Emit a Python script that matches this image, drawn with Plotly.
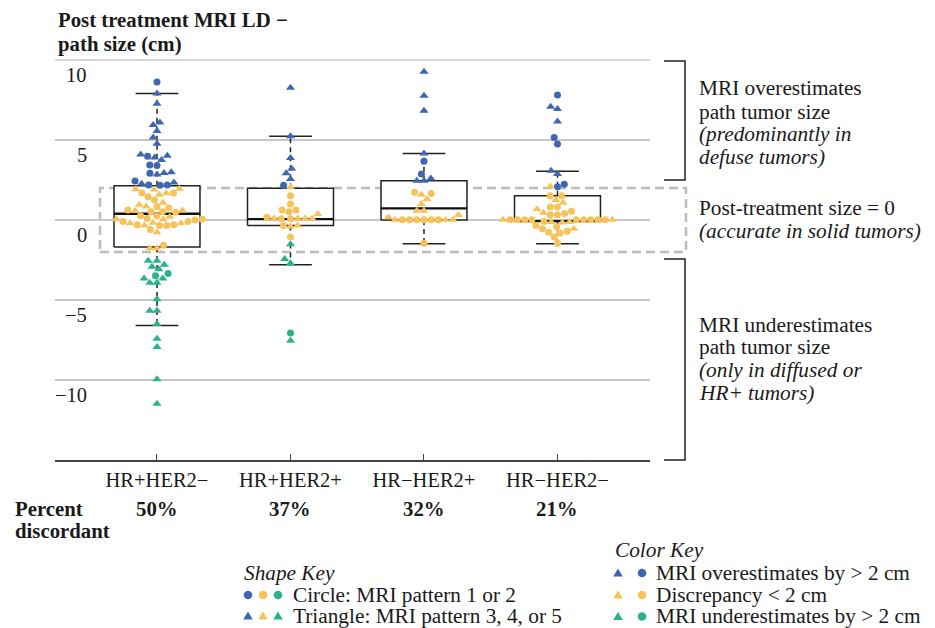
import math
import plotly.graph_objects as go

# ---------------- data ----------------
categories = ["HR+HER2−", "HR+HER2+", "HR−HER2+", "HR−HER2−"]
percent_discordant = ["50%", "37%", "32%", "21%"]

# box statistics (cm)
box_q1 = [-1.69, -0.35, 0.00, -0.10]
box_median = [0.39, 0.06, 0.73, -0.05]
box_q3 = [2.14, 1.98, 2.46, 1.52]
whisker_low = [-6.60, -2.79, -1.48, -1.48]
whisker_high = [7.90, 5.23, 4.15, 3.04]

y_ticks = [10, 5, 0, -5, -10]

# HR+HER2-
g1_over_circle = [8.63, 3.98, 3.44, 3.40, 2.92, 2.44, 2.19, 2.19, 2.17]
g1_over_tri = [7.90, 7.27, 6.10, 5.94, 5.56, 5.15, 4.77, 4.10, 4.02, 3.90, 3.75, 2.98, 2.94, 2.85, 2.35, 2.27]
g1_disc_circle = [1.69, 1.69, 1.46, 1.25, 0.83, 0.75, 0.62, 0.52, 0.52, 0.48, 0.27, 0.25, 0.10, 0.06, 0.00,
                  -0.10, -0.10, -0.29, -0.29, -0.35, -0.35, -0.60, -1.58]
g1_disc_tri = [1.96, 1.92, 1.90, 1.67, 1.58, 1.08, 0.96, 0.85, 0.60, 0.56, 0.21, 0.04, 0.04, -0.17, -0.21,
               -0.21, -0.35, -0.77, -1.77, -1.77]
g1_under_circle = [-3.35, -3.48]
g1_under_tri = [-2.54, -2.54, -2.79, -2.92, -3.08, -3.65, -3.65, -3.92, -3.92, -4.96, -5.67, -5.67, -6.50,
                -7.42, -7.94, -9.96, -11.48]

# HR+HER2+
g2_over_circle = [2.17]
g2_over_tri = [8.27, 5.23, 3.88, 3.21, 2.92, 2.56]
g2_disc_circle = [1.52, 1.00, 0.63, 0.63, 0.52, 0.17, 0.08, 0.08, -0.35, -1.06]
g2_disc_tri = [2.04, 0.38, 0.10, 0.10, 0.10, 0.10, -0.35, -0.40]
g2_under_circle = [-7.06]
g2_under_tri = [-1.52, -2.44, -2.71, -7.54]

# HR-HER2+
g3_over_circle = [3.67, 2.88]
g3_over_tri = [9.27, 7.77, 6.83, 4.15, 2.60, 2.46, 2.46]
g3_disc_circle = [1.73, 1.65, 0.02, 0.02, 0.02, 0.02, 0.02, 0.02, -1.46]
g3_disc_tri = [1.58, 1.29, 1.00, 0.58, 0.58, 0.31, 0.17, 0.02, 0.02, 0.02]
g3_under_circle = []
g3_under_tri = []

# HR-HER2-
g4_over_circle = [7.81, 5.15, 4.75, 2.23, 2.08]
g4_over_tri = [7.08, 6.94, 6.15, 3.08, 2.88]
g4_disc_circle = [1.52, 1.52, 0.81, 0.81, 0.54, 0.40, 0.33, 0.33, 0.02, 0.02, 0.02, 0.02, 0.02, 0.02,
                  0.02, 0.02, 0.02, -0.10, -0.35, -0.42, -0.54, -0.71, -0.77, -0.81, -1.06, -1.46]
g4_disc_tri = [2.10, 1.25, 1.08, 0.67, 0.46, 0.02, 0.02, -0.12, -0.12, -0.15, -0.54]
g4_under_circle = []
g4_under_tri = []

groups = [
    {"over": (g1_over_circle, g1_over_tri), "disc": (g1_disc_circle, g1_disc_tri), "under": (g1_under_circle, g1_under_tri)},
    {"over": (g2_over_circle, g2_over_tri), "disc": (g2_disc_circle, g2_disc_tri), "under": (g2_under_circle, g2_under_tri)},
    {"over": (g3_over_circle, g3_over_tri), "disc": (g3_disc_circle, g3_disc_tri), "under": (g3_under_circle, g3_under_tri)},
    {"over": (g4_over_circle, g4_over_tri), "disc": (g4_disc_circle, g4_disc_tri), "under": (g4_under_circle, g4_under_tri)},
]

# ---------------- styling / layout ----------------
COLORS = {"over": "#4066B0", "disc": "#F6C35A", "under": "#2AB38B"}
FONT = "Liberation Serif, Times New Roman, serif"
TXT = "#1a1a1a"
FS = 20.5
FS_NOTE = 21.3

W_FIG, H_FIG = 935, 628
L, R, T, B = 55, 285, 60, 168
PW = W_FIG - L - R
PH = H_FIG - T - B
X_RANGE = [-0.764, 3.693]
Y_RANGE = [-15, 10]
PX_PER_X = PW / (X_RANGE[1] - X_RANGE[0])
PX_PER_Y = PH / (Y_RANGE[1] - Y_RANGE[0])
BOX_HW = 0.322
CAP_HW = 0.16
SWARM_D = 7.2  # px


def px(xpix):
    return (xpix - L) / PW


def py(ypix):
    return (T + PH - ypix) / PH


def yv(v):
    return (v - Y_RANGE[0]) / (Y_RANGE[1] - Y_RANGE[0])


def swarm(values, d=SWARM_D):
    ys = [v * PX_PER_Y for v in values]
    order = sorted(range(len(values)), key=lambda i: ys[i])
    xs = [0.0] * len(values)
    placed = []
    for i in order:
        y = ys[i]
        neigh = [(a, b) for a, b in placed if abs(b - y) < d]
        cands = [0.0]
        for a, b in neigh:
            dx = math.sqrt(max(d * d - (b - y) ** 2, 0.0))
            cands += [a + dx, a - dx]
        cands.sort(key=lambda c: (abs(c), c))
        for c in cands:
            if all((c - a) ** 2 + (y - b) ** 2 >= d * d - 1e-6 for a, b in neigh):
                xs[i] = c
                break
        placed.append((xs[i], y))
    return [x / PX_PER_X for x in xs]


fig = go.Figure()

# boxes
bx, by, mx, my, wx, wy, cx, cy = [], [], [], [], [], [], [], []
for i in range(len(categories)):
    c = i
    bx += [c - BOX_HW, c + BOX_HW, c + BOX_HW, c - BOX_HW, c - BOX_HW, None]
    by += [box_q1[i], box_q1[i], box_q3[i], box_q3[i], box_q1[i], None]
    mx += [c - BOX_HW, c + BOX_HW, None]
    my += [box_median[i], box_median[i], None]
    wx += [c, c, None, c, c, None]
    wy += [box_q3[i], whisker_high[i], None, box_q1[i], whisker_low[i], None]
    cx += [c - CAP_HW, c + CAP_HW, None, c - CAP_HW, c + CAP_HW, None]
    cy += [whisker_high[i], whisker_high[i], None, whisker_low[i], whisker_low[i], None]

fig.add_trace(go.Scatter(x=wx, y=wy, mode="lines", line=dict(color="#222", width=1.5, dash="5px,4px"),
                         hoverinfo="skip", showlegend=False))
fig.add_trace(go.Scatter(x=bx, y=by, mode="lines", fill="toself", fillcolor="white",
                         line=dict(color="#222", width=1.5), hoverinfo="skip", showlegend=False))
fig.add_trace(go.Scatter(x=mx, y=my, mode="lines", line=dict(color="#111", width=2.3),
                         hoverinfo="skip", showlegend=False))
fig.add_trace(go.Scatter(x=cx, y=cy, mode="lines", line=dict(color="#222", width=1.5),
                         hoverinfo="skip", showlegend=False))

# points (beeswarm)
pts = {(k, s): ([], []) for k in COLORS for s in ("circle", "triangle-up")}
for gi, g in enumerate(groups):
    vals, keys = [], []
    for k in ("over", "disc", "under"):
        circ, tri = g[k]
        for v in circ:
            vals.append(v)
            keys.append((k, "circle"))
        for v in tri:
            vals.append(v)
            keys.append((k, "triangle-up"))
    offs = swarm(vals)
    for v, o, key in zip(vals, offs, keys):
        pts[key][0].append(gi + o)
        pts[key][1].append(v)

for (k, s), (xs, ys) in pts.items():
    fig.add_trace(go.Scatter(
        x=xs, y=ys, mode="markers",
        marker=dict(symbol=s, color=COLORS[k], size=7 if s == "circle" else 8, line=dict(width=0)),
        showlegend=False, hoverinfo="skip"))

# ---------------- shapes ----------------
shapes = [
    dict(type="line", xref="paper", yref="paper", x0=0, x1=1, y0=yv(10), y1=yv(10),
         line=dict(color="#c8c8c8", width=1.5), layer="below"),
    dict(type="rect", xref="paper", yref="paper", x0=px(100), x1=px(686), y0=yv(-2), y1=yv(2),
         line=dict(color="#bdbdbd", width=2.5, dash="9px,5px"), layer="below"),
    dict(type="path", xref="paper", yref="paper",
         path=f"M {px(664)} {py(61)} L {px(685)} {py(61)} L {px(685)} {py(180)} L {px(664)} {py(180)}",
         line=dict(color="#222", width=1.5)),
    dict(type="path", xref="paper", yref="paper",
         path=f"M {px(664)} {py(259)} L {px(685)} {py(259)} L {px(685)} {py(460)} L {px(664)} {py(460)}",
         line=dict(color="#222", width=1.5)),
]


def key_marker(xpix, ypix, sym, color):
    base = dict(xref="paper", yref="paper", xsizemode="pixel", ysizemode="pixel",
                xanchor=px(xpix), yanchor=py(ypix), fillcolor=color, line=dict(width=0), layer="above")
    if sym == "circle":
        base.update(type="circle", x0=-4.3, x1=4.3, y0=-4.3, y1=4.3)
    else:
        base.update(type="path", path="M -4.8 -3.6 L 4.8 -3.6 L 0 4.6 Z")
    return base


for j, k in enumerate(("over", "disc", "under")):
    rowy = [573, 595, 616.5][j]
    shapes.append(key_marker(618, rowy, "tri", COLORS[k]))
    shapes.append(key_marker(642, rowy, "circle", COLORS[k]))
for j, k in enumerate(("over", "disc", "under")):
    xx = [248, 263, 278][j]
    shapes.append(key_marker(xx, 595, "circle", COLORS[k]))
    shapes.append(key_marker(xx, 616, "tri", COLORS[k]))

# ---------------- annotations ----------------
ann = []


def text(x, y, s, size=FS, anchor="left", xref="paper"):
    ann.append(dict(x=x, y=y, xref=xref, yref="paper", text=s, showarrow=False, xanchor=anchor,
                    yanchor="middle", borderpad=0, font=dict(family=FONT, size=size, color=TXT)))


text(px(57), py(20), "<b>Post treatment MRI LD −</b>", size=20.8)
text(px(57), py(44), "<b>path size (cm)</b>", size=20.8)

for v in y_ticks:
    ann.append(dict(x=px(89), y=yv(v), xref="paper", yref="paper", text=str(v).replace("-", "−"),
                    showarrow=False, xanchor="right", yanchor="middle", yshift=-15,
                    font=dict(family=FONT, size=FS, color=TXT)))

for s, yy in [("MRI overestimates", 88), ("path tumor size", 112), ("<i>(predominantly in</i>", 134),
              ("<i>defuse tumors)</i>", 157), ("Post-treatment size = 0", 208),
              ("<i>(accurate in solid tumors)</i>", 231), ("MRI underestimates", 325),
              ("path tumor size", 347), ("<i>(only in diffused or</i>", 370), ("<i>HR+ tumors)</i>", 393)]:
    text(px(698), py(yy), s, size=FS_NOTE)

text(px(14), py(508), "<b>Percent</b>", size=20.8)
text(px(14), py(530), "<b>discordant</b>", size=20.8)
for i, p in enumerate(percent_discordant):
    text(i, py(508), f"<b>{p}</b>", anchor="center", xref="x", size=20.8)

text(px(243), py(573), "<i>Shape Key</i>", size=FS_NOTE)
text(px(292), py(595), "Circle: MRI pattern 1 or 2", size=FS_NOTE)
text(px(292), py(615.5), "Triangle: MRI pattern 3, 4, or 5", size=FS_NOTE)
text(px(614), py(550), "<i>Color Key</i>", size=FS_NOTE)
text(px(655), py(573), "MRI overestimates by &gt; 2 cm", size=FS_NOTE)
text(px(655), py(595), "Discrepancy &lt; 2 cm", size=FS_NOTE)
text(px(655), py(616), "MRI underestimates by &gt; 2 cm", size=FS_NOTE)

fig.update_layout(
    width=W_FIG, height=H_FIG, autosize=False,
    margin=dict(l=L, r=R, t=T, b=B, pad=0),
    paper_bgcolor="white", plot_bgcolor="white",
    showlegend=False,
    shapes=shapes, annotations=ann,
    font=dict(family=FONT, size=FS, color=TXT),
    xaxis=dict(range=X_RANGE, tickvals=list(range(len(categories))), ticktext=categories,
               showgrid=False, zeroline=False, showline=True, linecolor="#444", linewidth=2,
               ticks="inside", ticklen=6, tickwidth=1.2, tickcolor="#444",
               tickfont=dict(family=FONT, size=FS, color=TXT), fixedrange=True),
    yaxis=dict(range=Y_RANGE, tickvals=y_ticks, showticklabels=False, showgrid=True,
               gridcolor="#c8c8c8", gridwidth=1.5, zeroline=False, showline=False, ticks="",
               fixedrange=True),
)

fig.write_html("out.html", config={"displayModeBar": False})
with open("out.html", encoding="utf-8") as f:
    html = f.read()
html = html.replace("<head>", "<head><style>html,body{margin:0;padding:0;overflow:hidden;}</style>", 1)
with open("out.html", "w", encoding="utf-8") as f:
    f.write(html)
